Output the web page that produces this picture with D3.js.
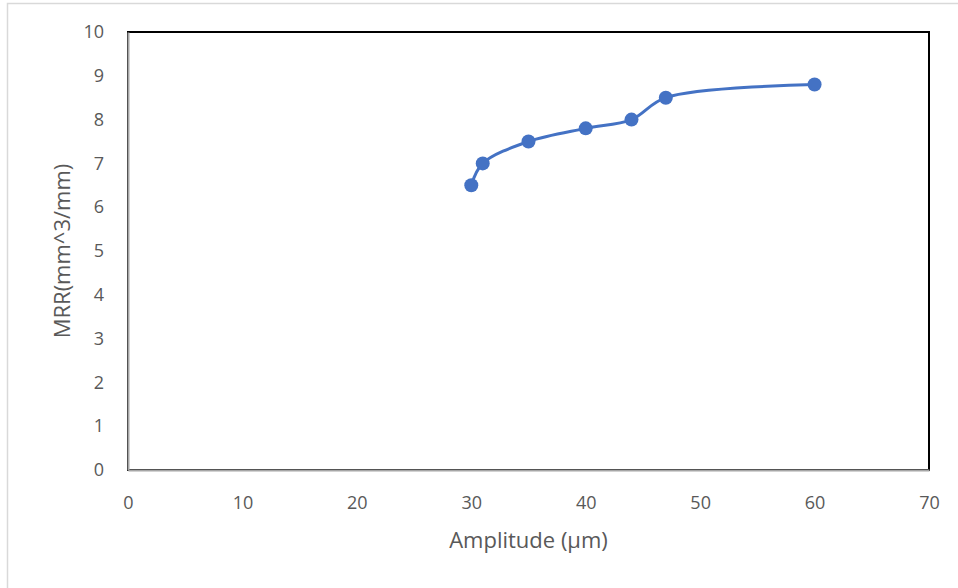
<!DOCTYPE html>
<html><head><meta charset="utf-8">
<script src="https://cdn.jsdelivr.net/npm/d3@7"></script>
<style>body{margin:0;background:#fff;}svg{display:block;}</style>
</head><body>
<svg id="chart" width="958" height="588"></svg>
<script>
const amplitude = [30, 31, 35, 40, 44, 47, 60];
const mrr = [6.5, 7.0, 7.5, 7.8, 8.0, 8.5, 8.8];
const xTicks = [0, 10, 20, 30, 40, 50, 60, 70];
const yTicks = [0, 1, 2, 3, 4, 5, 6, 7, 8, 9, 10];
const xTitle = "Amplitude (µm)";
const yTitle = "MRR(mm^3/mm)";

const svg = d3.select("#chart");
const font = "'Open Sans', 'Noto Sans', sans-serif";
const L = 128, R = 929, T = 32, B = 470;
const x = d3.scaleLinear().domain([0, 70]).range([L, R]);
const y = d3.scaleLinear().domain([0, 10]).range([B, T]);

// outer chart border
svg.append("rect").attr("x", 7.5).attr("y", 3.5).attr("width", 1000).attr("height", 1000)
  .attr("fill", "none").attr("stroke", "#d9d9d9").attr("stroke-width", 1.5);

// plot area border
svg.append("rect").attr("x", L).attr("y", T).attr("width", R - L).attr("height", B - T)
  .attr("fill", "none").attr("stroke", "#000").attr("stroke-width", 2);

// axes
const xAxis = svg.append("g").attr("transform", `translate(0,${B})`)
  .call(d3.axisBottom(x).tickValues(xTicks).tickSize(0).tickPadding(26));
const yAxis = svg.append("g").attr("transform", `translate(${L},0)`)
  .call(d3.axisLeft(y).tickValues(yTicks).tickSize(0).tickPadding(24));
[xAxis, yAxis].forEach(a => {
  a.select(".domain").attr("stroke", "#a6a6a6").attr("stroke-width", 2);
  a.selectAll("text").attr("fill", "#595959").style("font-family", font).style("font-size", "18px");
});

// series
const line = d3.line().x((d, i) => x(amplitude[i])).y(d => y(d)).curve(d3.curveCatmullRom.alpha(0.5));
svg.append("path").datum(mrr).attr("d", line).attr("fill", "none")
  .attr("stroke", "#4472C4").attr("stroke-width", 3).attr("stroke-linecap", "round");
svg.selectAll("circle.pt").data(mrr).enter().append("circle").attr("class", "pt")
  .attr("cx", (d, i) => x(amplitude[i])).attr("cy", d => y(d)).attr("r", 7)
  .attr("fill", "#4472C4");

// titles
svg.append("text").attr("x", (L + R) / 2).attr("y", 548).attr("text-anchor", "middle")
  .attr("fill", "#595959").style("font-family", font).style("font-size", "22px").text(xTitle);
svg.append("text").attr("transform", `translate(70,${(T + B) / 2}) rotate(-90)`).attr("text-anchor", "middle")
  .attr("fill", "#595959").style("font-family", font).style("font-size", "22px").text(yTitle);
</script>
</body></html>
